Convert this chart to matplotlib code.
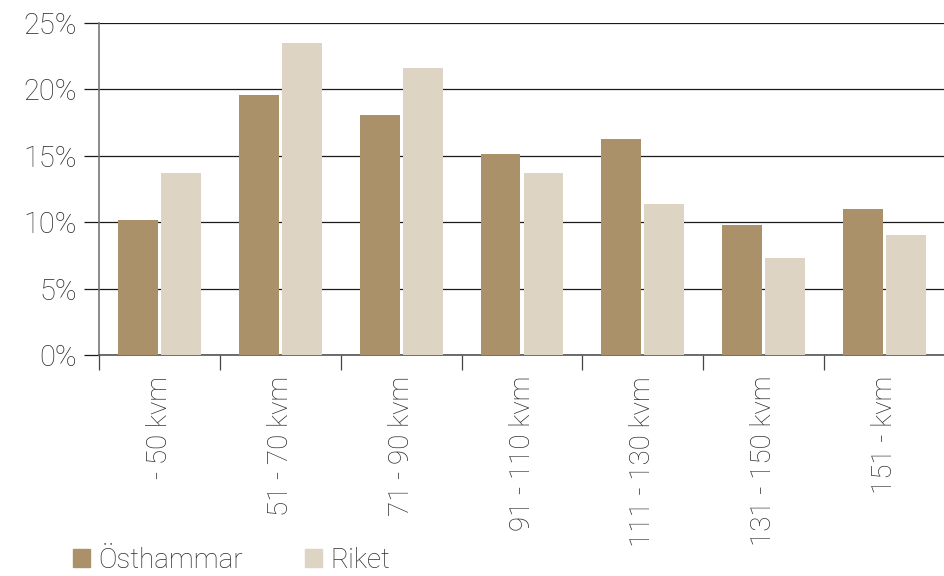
import numpy as np
import matplotlib
matplotlib.use("Agg")
import matplotlib.pyplot as plt
from matplotlib.ticker import FuncFormatter
from matplotlib.patches import Patch

# share of dwellings by size, percent
categories = ["- 50 kvm", "51 - 70 kvm", "71 - 90 kvm", "91 - 110 kvm",
              "111 - 130 kvm", "131 - 150 kvm", "151 - kvm"]
osthammar = [10.2, 19.6, 18.1, 15.1, 16.3, 9.8, 11.0]
riket = [13.7, 23.5, 21.6, 13.7, 11.4, 7.3, 9.0]
series_names = ["Östhammar", "Riket"]

c_ost = "#ab916a"
c_rik = "#ddd4c3"
txt = "#2e2e2e"
fs = 20

plt.rcParams["font.family"] = ["Roboto", "DejaVu Sans"]
plt.rcParams["font.weight"] = "light"

fig = plt.figure(figsize=(9.45, 5.76), dpi=100)
ax = fig.add_axes([0.1048, 0.3837, 0.8952, 0.5763])

x = np.arange(len(categories))
w = 0.33
ax.bar(x - 0.178, osthammar, w, color=c_ost, zorder=3)
ax.bar(x + 0.178, riket, w, color=c_rik, zorder=3)

ax.set_xlim(-0.5, len(categories) - 0.5)
ax.set_ylim(0, 25)
ax.set_yticks(np.arange(0, 26, 5))
ax.yaxis.set_major_formatter(FuncFormatter(lambda v, p: f"{v:.0f}%"))
ax.grid(axis="y", color="#1a1a1a", linewidth=0.9, zorder=1)
ax.tick_params(axis="y", length=11, width=0.9, color="#1a1a1a",
               labelsize=21, labelcolor=txt, pad=5)

# category boundaries as x ticks, labels centred in between
ax.set_xticks(np.arange(-0.5, len(categories), 1.0))
ax.set_xticklabels([])
ax.set_xticks(x, minor=True)
ax.set_xticklabels(categories, minor=True, rotation=90, fontsize=fs, color=txt)
ax.tick_params(axis="x", which="major", length=11, width=0.9, color="#444444")
ax.tick_params(axis="x", which="minor", length=0, pad=15)

for s in ["top", "right"]:
    ax.spines[s].set_visible(False)
ax.spines["left"].set_color("#777777")
ax.spines["left"].set_linewidth(1.2)
ax.spines["bottom"].set_color("#555555")
ax.spines["bottom"].set_linewidth(1.2)

handles = [Patch(color=c_ost, label=series_names[0]),
           Patch(color=c_rik, label=series_names[1])]
fig.legend(handles=handles, loc="lower left", bbox_to_anchor=(0.051, -0.04),
           ncol=2, frameon=False, fontsize=fs, labelcolor=txt,
           handlelength=0.6, handleheight=0.6, handletextpad=0.3,
           columnspacing=2.25)

fig.savefig("out.png", dpi=100)
